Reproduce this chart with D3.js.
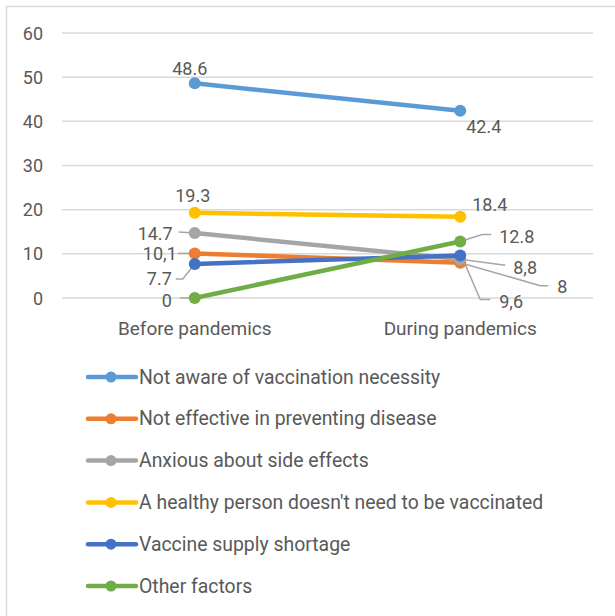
<!DOCTYPE html>
<html>
<head>
<meta charset="utf-8">
<script src="https://cdn.jsdelivr.net/npm/d3@7/dist/d3.min.js"></script>
<style>
  html, body { margin: 0; padding: 0; background: #fff; }
  svg { display: block; }
  text { font-family: Roboto, "Noto Sans", sans-serif; fill: #595959; }
</style>
</head>
<body>
<svg id="chart" width="615" height="616"></svg>
<script>
// Reasons for not vaccinating, before vs during the pandemic (%)
const categories = ["Before pandemics", "During pandemics"];
const seriesNames = [
  "Not aware of vaccination necessity",
  "Not effective in preventing disease",
  "Anxious about side effects",
  "A healthy person doesn't need to be vaccinated",
  "Vaccine supply shortage",
  "Other factors"
];
const notAware   = [48.6, 42.4];
const notEffective = [10.1, 8];
const anxious    = [14.7, 8.8];
const healthy    = [19.3, 18.4];
const shortage   = [7.7, 9.6];
const otherFactors = [0, 12.8];
// value labels as printed (some use a decimal comma)
const labelsNotAware = ["48.6", "42.4"];
const labelsNotEffective = ["10,1", "8"];
const labelsAnxious = ["14.7", "8,8"];
const labelsHealthy = ["19.3", "18.4"];
const labelsShortage = ["7.7", "9,6"];
const labelsOther = ["0", "12.8"];
const yTicks = [0, 10, 20, 30, 40, 50, 60];
const colors = ["#5B9BD5", "#ED7D31", "#A5A5A5", "#FFC000", "#4472C4", "#70AD47"];

const seriesValues = [notAware, notEffective, anxious, healthy, shortage, otherFactors];
const seriesLabels = [labelsNotAware, labelsNotEffective, labelsAnxious, labelsHealthy, labelsShortage, labelsOther];

// label placement per series/point: offset from the marker, anchor, optional leader path
const labelPlacement = [
  [{dx: -5, dy: -15, a: "middle"}, {dx: 6, dy: 16, a: "start"}],
  [{dx: -18, dy: 0, a: "end", lead: [[-17, 0], [0, 0]]},
   {dx: 97, dy: 24, a: "start", lead: [[0, 0], [80, 23], [88, 23]]}],
  [{dx: -22, dy: 0, a: "end", lead: [[-16, -1], [0, 0]]},
   {dx: 53, dy: 8, a: "start", lead: [[0, 0], [45, 6]]}],
  [{dx: -2, dy: -17, a: "middle"}, {dx: 12, dy: -12, a: "start"}],
  [{dx: -23, dy: 15, a: "end", lead: [[-19, 15], [-12, 15], [0, 0]]},
   {dx: 39, dy: 46, a: "start", lead: [[2, 2], [20, 44], [30, 44]]}],
  [{dx: -23, dy: 2, a: "end", lead: [[-15, 0], [0, 0]]},
   {dx: 39, dy: -5, a: "start", lead: [[0, 0], [22, -7], [31, -7]]}]
];

const svg = d3.select("#chart");

// chart frame
svg.append("path")
  .attr("d", "M6.5,616 V6.5 H615")
  .attr("fill", "none").attr("stroke", "#d9d9d9").attr("stroke-width", 1.5);

const plot = {left: 62, right: 593, top: 33, bottom: 298};
const x = d3.scalePoint().domain(categories).range([plot.left, plot.right]).padding(0.5);
const y = d3.scaleLinear().domain([0, 60]).range([plot.bottom, plot.top]);

// gridlines
svg.append("g").selectAll("line").data(yTicks).join("line")
  .attr("x1", plot.left).attr("x2", plot.right)
  .attr("y1", d => y(d)).attr("y2", d => y(d))
  .attr("stroke", "#d9d9d9").attr("stroke-width", 1.5);

// y axis labels
svg.append("g").selectAll("text").data(yTicks).join("text")
  .attr("x", 43).attr("y", d => y(d))
  .attr("text-anchor", "end").attr("dominant-baseline", "central")
  .attr("font-size", 18).text(d => d);

// x axis labels
svg.append("g").selectAll("text").data(categories).join("text")
  .attr("x", d => x(d)).attr("y", 328)
  .attr("text-anchor", "middle").attr("dominant-baseline", "central")
  .attr("font-size", 19).text(d => d);

const line = d3.line().x((d, i) => x(categories[i])).y(d => y(d));

// leader lines first so markers sit on top
const leaders = svg.append("g");
const linesG = svg.append("g");
const labelsG = svg.append("g");

seriesValues.forEach((vals, s) => {
  linesG.append("path").datum(vals)
    .attr("d", line).attr("fill", "none")
    .attr("stroke", colors[s]).attr("stroke-width", 4.5)
    .attr("stroke-linecap", "round");
  linesG.selectAll(null).data(vals).join("circle")
    .attr("cx", (d, i) => x(categories[i])).attr("cy", d => y(d))
    .attr("r", 6).attr("fill", colors[s]);

  vals.forEach((v, i) => {
    const px = x(categories[i]), py = y(v);
    const p = labelPlacement[s][i];
    if (p.lead) {
      leaders.append("path")
        .attr("d", d3.line()(p.lead.map(([a, b]) => [px + a, py + b])))
        .attr("fill", "none").attr("stroke", "#a6a6a6").attr("stroke-width", 1.5);
    }
    labelsG.append("text")
      .attr("x", px + p.dx).attr("y", py + p.dy)
      .attr("text-anchor", p.a).attr("dominant-baseline", "central")
      .attr("font-size", 18).text(seriesLabels[s][i]);
  });
});

// legend
const legend = svg.append("g");
const legendY = d3.scalePoint().domain(seriesNames).range([377, 586]);
seriesNames.forEach((name, s) => {
  const ly = legendY(name);
  legend.append("line").attr("x1", 88).attr("x2", 136).attr("y1", ly).attr("y2", ly)
    .attr("stroke", colors[s]).attr("stroke-width", 4.5).attr("stroke-linecap", "round");
  legend.append("circle").attr("cx", 111).attr("cy", ly).attr("r", 5.5).attr("fill", colors[s]);
  legend.append("text").attr("x", 139).attr("y", ly)
    .attr("dominant-baseline", "central").attr("font-size", 19.4).text(name);
});
</script>
</body>
</html>
